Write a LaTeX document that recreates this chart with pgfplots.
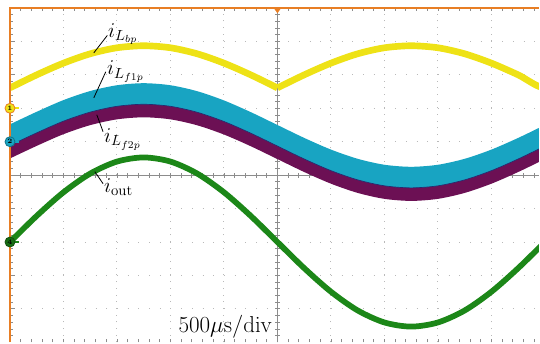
\documentclass[border=0pt]{standalone}
\usepackage{pgfplots}
\pgfplotsset{compat=1.18}
\usepackage{pgfplotstable}
\definecolor{yelc}{RGB}{238,226,22}
\definecolor{cyac}{RGB}{24,164,194}
\definecolor{purc}{RGB}{108,16,84}
\definecolor{grnc}{RGB}{28,135,24}
\definecolor{orng}{RGB}{232,126,36}
\definecolor{gridc}{RGB}{185,185,185}
\definecolor{centc}{RGB}{140,140,140}
\definecolor{navyc}{RGB}{40,40,110}

% X in divisions (500 us/div), Y in divisions
\pgfplotstableread{
X    gr      yel
0    -2.000  2.61
0.5  -1.218  3.00
1    -0.513  3.35
1.5   0.047  3.63
2     0.406  3.81
2.5   0.530  3.87
3     0.406  3.81
3.5   0.047  3.63
4    -0.513  3.35
4.5  -1.218  3.00
5    -2.000  2.61
5.5  -2.782  3.00
6    -3.487  3.35
6.5  -4.047  3.63
7    -4.406  3.81
7.5  -4.530  3.87
8    -4.406  3.81
8.5  -4.047  3.63
9    -3.487  3.35
9.5  -2.782  3.00
10   -2.000  2.61
10.5 -1.218  3.00
11   -0.513  3.35
}\wave

% band outlines: upper edge left->right, then lower edge right->left
\pgfplotstableread{
X    cy     pu
0    1.520  1.220
0.5  1.896  1.596
1    2.245  1.945
1.5  2.516  2.216
2    2.689  2.389
2.5  2.750  2.450
3    2.689  2.389
3.5  2.511  2.211
4    2.235  1.935
4.5  1.886  1.586
5    1.500  1.200
5.5  1.114  0.814
6    0.765  0.465
6.5  0.489  0.189
7    0.311  0.011
7.5  0.250 -0.050
8    0.311  0.011
8.5  0.489  0.189
9    0.765  0.465
9.5  1.114  0.814
10   1.500  1.200
10.5 1.886  1.586
11   2.235  1.935
11   1.605  1.215
10.5 1.256  0.866
10   0.870  0.480
9.5  0.484  0.094
9    0.135 -0.255
8.5 -0.141 -0.531
8   -0.319 -0.709
7.5 -0.380 -0.770
7   -0.319 -0.709
6.5 -0.141 -0.531
6    0.135 -0.255
5.5  0.484  0.094
5    0.870  0.480
4.5  1.256  0.866
4    1.605  1.215
3.5  1.881  1.491
3    2.059  1.669
2.5  2.120  1.730
2    2.059  1.669
1.5  1.886  1.496
1    1.615  1.225
0.5  1.266  0.876
0    0.890  0.500
}\band

\pgfplotstableread{
X    cb
0    0.890
0.5  1.266
1    1.615
1.5  1.886
2    2.059
2.5  2.120
3    2.059
3.5  1.881
4    1.605
4.5  1.256
5    0.870
5.5  0.484
6    0.135
6.5 -0.141
7   -0.319
7.5 -0.380
8   -0.319
8.5 -0.141
9    0.135
9.5  0.484
10   0.870
10.5 1.256
11   1.605
}\cyanbottom

\begin{document}
\begin{tikzpicture}
\begin{axis}[
  scale only axis, width=397.5pt, height=251.25pt,
  xmin=0, xmax=9.888, ymin=-5, ymax=5,
  axis line style={draw=none},
  xtick=\empty, ytick=\empty,
  clip mode=individual,
]
% bounding box with white margins
\path ([xshift=-7.5pt]axis cs:0,-5) rectangle ([yshift=6pt]axis cs:9.888,5);
% dotted grid
\pgfplotsinvokeforeach{1,2,3,4,6,7,8,9}{
  \draw[gridc, line width=0.75pt, dash pattern=on 0.75pt off 4.275pt] (axis cs:#1,-5) -- (axis cs:#1,5);
}
\pgfplotsinvokeforeach{-4,-3,-2,-1,1,2,3,4}{
  \draw[gridc, line width=0.75pt, dash pattern=on 0.75pt off 7.29pt] (axis cs:0,#1) -- (axis cs:9.888,#1);
}
% centre cross
\draw[centc, line width=0.7pt] (axis cs:0,0) -- (axis cs:9.888,0);
\draw[centc, line width=0.7pt] (axis cs:5,-5) -- (axis cs:5,5);
\pgfplotsinvokeforeach{0.2,0.4,...,9.81}{
  \draw[centc, line width=0.6pt] ([yshift=-1.8pt]axis cs:#1,0) -- ([yshift=1.8pt]axis cs:#1,0);
  \draw[centc, line width=0.6pt] (axis cs:#1,5) -- ([yshift=-2.2pt]axis cs:#1,5);
  \draw[centc, line width=0.6pt] (axis cs:#1,-5) -- ([yshift=2.2pt]axis cs:#1,-5);
}
\pgfplotsinvokeforeach{-4.8,-4.6,...,4.81}{
  \draw[centc, line width=0.6pt] ([xshift=-1.8pt]axis cs:5,#1) -- ([xshift=1.8pt]axis cs:5,#1);
  \draw[centc, line width=0.6pt] (axis cs:0,#1) -- ([xshift=2.2pt]axis cs:0,#1);
}
\pgfplotsinvokeforeach{-4,-3,-2,-1,1,2,3,4}{
  \draw[centc, line width=0.6pt] (axis cs:0,#1) -- ([xshift=4pt]axis cs:0,#1);
}
% waveforms
\addplot[draw=none, fill=purc, smooth] table[x=X, y=pu] {\band};
\addplot[draw=none, fill=cyac, smooth] table[x=X, y=cy] {\band};
\addplot[navyc, line width=0.5pt, smooth] table[x=X, y=cb] {\cyanbottom};
\addplot[yelc, line width=5pt, smooth, restrict x to domain=0:5] table[x=X, y=yel] {\wave};
\addplot[yelc, line width=5pt, smooth, restrict x to domain=5:11] table[x=X, y=yel] {\wave};
\addplot[grnc, line width=4.3pt, smooth] table[x=X, y=gr] {\wave};
% screen border
\draw[orng, line width=1.6pt] (axis cs:0,-5) -- (axis cs:0,5) -- (axis cs:9.888,5);
\fill[orng] ([xshift=-2.8pt]axis cs:5,5) -- ([xshift=2.8pt]axis cs:5,5) -- ([yshift=-4pt]axis cs:5,5) -- cycle;
% channel markers
\draw[yelc, line width=1.3pt] (axis cs:0,2) -- ([xshift=7pt]axis cs:0,2);
\node[circle, fill=yelc, draw=orng, line width=0.6pt, inner sep=0pt, minimum size=7.5pt, font=\fontsize{5}{5}\selectfont\bfseries] at (axis cs:0,2) {1};
\draw[cyac, line width=1.3pt] (axis cs:0,1) -- ([xshift=7pt]axis cs:0,1);
\node[circle, fill=cyac, draw=cyac!70!black, line width=0.6pt, inner sep=0pt, minimum size=7.5pt, font=\fontsize{5}{5}\selectfont\bfseries] at (axis cs:0,1) {2};
\draw[grnc, line width=1.3pt] (axis cs:0,-2) -- ([xshift=7pt]axis cs:0,-2);
\node[circle, fill=grnc!80!black, draw=grnc!60!black, line width=0.6pt, inner sep=0pt, minimum size=7.5pt, font=\fontsize{5}{5}\selectfont\bfseries] at (axis cs:0,-2) {4};
% labels
\draw[black, line width=0.6pt] (axis cs:1.567,3.657) -- (axis cs:1.82,4.18);
\node[anchor=base west, inner sep=0pt, scale=1.1, font=\fontsize{14.4}{17}\selectfont] at (axis cs:1.83,4.13) {$i_{L_{bp}}$};
\draw[black, line width=0.6pt] (axis cs:1.567,2.313) -- (axis cs:1.79,3.09);
\node[anchor=base west, inner sep=0pt, scale=1.1, font=\fontsize{14.4}{17}\selectfont] at (axis cs:1.81,3.0) {$i_{L_{f1p}}$};
\draw[black, line width=0.6pt] (axis cs:1.623,1.806) -- (axis cs:1.74,1.30);
\node[anchor=base west, inner sep=0pt, scale=1.1, font=\fontsize{14.4}{17}\selectfont] at (axis cs:1.754,0.97) {$i_{L_{f2p}}$};
\draw[black, line width=0.6pt] (axis cs:1.586,0.104) -- (axis cs:1.74,-0.254);
\node[anchor=base west, inner sep=0pt, scale=1.1, font=\fontsize{14.4}{17}\selectfont] at (axis cs:1.754,-0.522) {$i_{\mathrm{out}}$};
\node[anchor=base east, inner sep=0pt, font=\fontsize{16}{19}\selectfont] at (axis cs:4.907,-4.70) {$500\mu\mathrm{s}/\mathrm{div}$};
\end{axis}
\end{tikzpicture}
\end{document}
